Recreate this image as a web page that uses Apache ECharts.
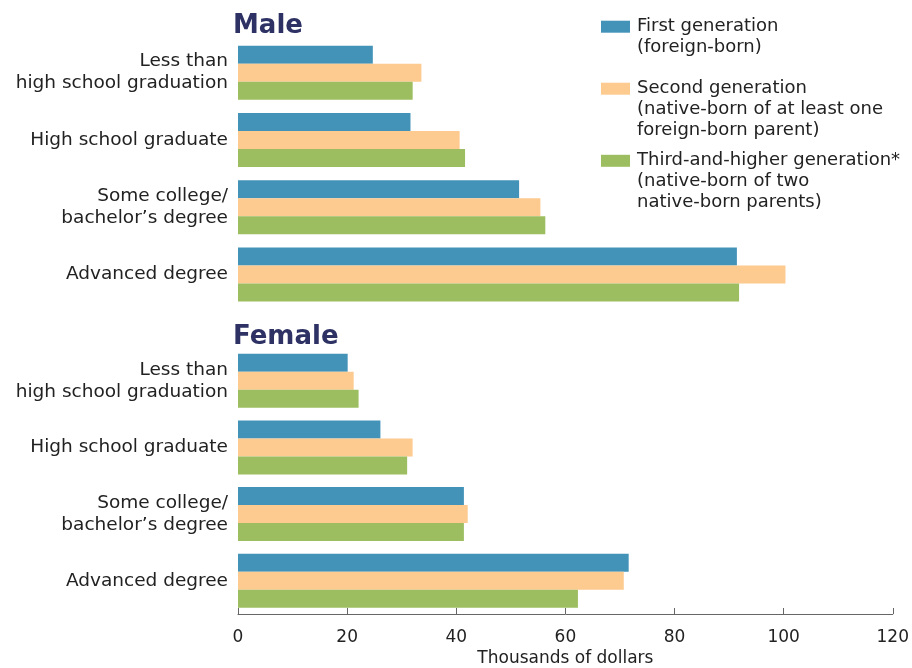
<!DOCTYPE html>
<html><head><meta charset="utf-8">
<script src="https://cdn.jsdelivr.net/npm/echarts@6/dist/echarts.min.js"></script>
<style>html,body{margin:0;padding:0;background:#fff}#c{width:912px;height:668px}</style>
</head><body><div id="c"></div>
<script>
var categories = ['Less than\nhigh school graduation', 'High school graduate', 'Some college/\nbachelor\u2019s degree', 'Advanced degree'];
var seriesNames = ['First generation', 'Second generation', 'Third-and-higher generation*'];
var seriesSub = [['(foreign-born)'], ['(native-born of at least one', 'foreign-born parent)'], ['(native-born of two', 'native-born parents)']];
var maleFirst = [24.7, 31.6, 51.5, 91.4];
var maleSecond = [33.6, 40.6, 55.4, 100.3];
var maleThird = [32.0, 41.6, 56.3, 91.8];
var femaleFirst = [20.1, 26.1, 41.4, 71.6];
var femaleSecond = [21.2, 32.0, 42.1, 70.7];
var femaleThird = [22.1, 31.0, 41.4, 62.3];
var xTicks = [0, 20, 40, 60, 80, 100, 120];
var panelTitles = ['Male', 'Female'];

var colors = ['#4393b9', '#fdca8f', '#9dbe60'];
var FONT = 'DejaVu Sans';
var chart = echarts.init(document.getElementById('c'), null, {renderer: 'canvas'});

var grids = [
  {left: 238, right: 19, top: 39, height: 269},
  {left: 238, right: 19, top: 347.5, height: 269}
];
function yAxis(i) {
  return {type: 'category', gridIndex: i, data: categories, inverse: true,
    axisLine: {show: false}, axisTick: {show: false},
    axisLabel: {color: '#222', fontFamily: FONT, fontSize: 18.5, lineHeight: 22, margin: 10, align: 'right'}};
}
function xAxis(i, showAll) {
  return {type: 'value', gridIndex: i, min: xTicks[0], max: xTicks[xTicks.length - 1], interval: 20,
    splitLine: {show: false},
    axisLine: {show: showAll, lineStyle: {color: '#666', width: 1}},
    axisTick: {show: showAll, inside: true, length: 6, lineStyle: {color: '#666'}},
    axisLabel: {show: showAll, color: '#222', fontFamily: FONT, fontSize: 17, margin: 15},
    name: showAll ? 'Thousands of dollars' : '', nameLocation: 'middle', nameGap: 36,
    nameTextStyle: {color: '#222', fontFamily: FONT, fontSize: 17}};
}
var data = [[maleFirst, maleSecond, maleThird], [femaleFirst, femaleSecond, femaleThird]];
var series = [];
for (var g = 0; g < 2; g++) {
  for (var s = 0; s < 3; s++) {
    series.push({type: 'bar', name: seriesNames[s], xAxisIndex: g, yAxisIndex: g,
      data: data[g][s], barWidth: 18, barGap: '0%', itemStyle: {color: colors[s]},
      emphasis: {disabled: true}});
  }
}
var LH = 21;
var iconCenters = [26.7, 88.7, 160.8];
var legends = seriesNames.map(function (n, i) {
  var lines = [n].concat(seriesSub[i]);
  var blanks = [];
  for (var k = 0; k < lines.length - 1; k++) blanks.push('');
  var txt = blanks.concat(lines).join('\n');
  var total = blanks.length + lines.length;
  return {show: true, orient: 'vertical', left: 601, top: iconCenters[i] - total * LH / 2, padding: 0,
    itemWidth: 29, itemHeight: 12, itemGap: 0, icon: 'rect', selectedMode: false,
    data: [n],
    formatter: function () { return txt; },
    textStyle: {color: '#222', fontFamily: FONT, fontSize: 18, lineHeight: LH, padding: [0, 0, 0, 2]}};
});
chart.setOption({
  animation: false,
  title: [
    {text: panelTitles[0], left: 233, top: 13, padding: 0, textStyle: {color: '#2d3163', fontFamily: FONT, fontWeight: 'bold', fontSize: 26}},
    {text: panelTitles[1], left: 233, top: 324, padding: 0, textStyle: {color: '#2d3163', fontFamily: FONT, fontWeight: 'bold', fontSize: 26}}
  ],
  legend: legends,
  grid: grids,
  xAxis: [xAxis(0, false), xAxis(1, true)],
  yAxis: [yAxis(0), yAxis(1)],
  series: series
});
</script></body></html>
